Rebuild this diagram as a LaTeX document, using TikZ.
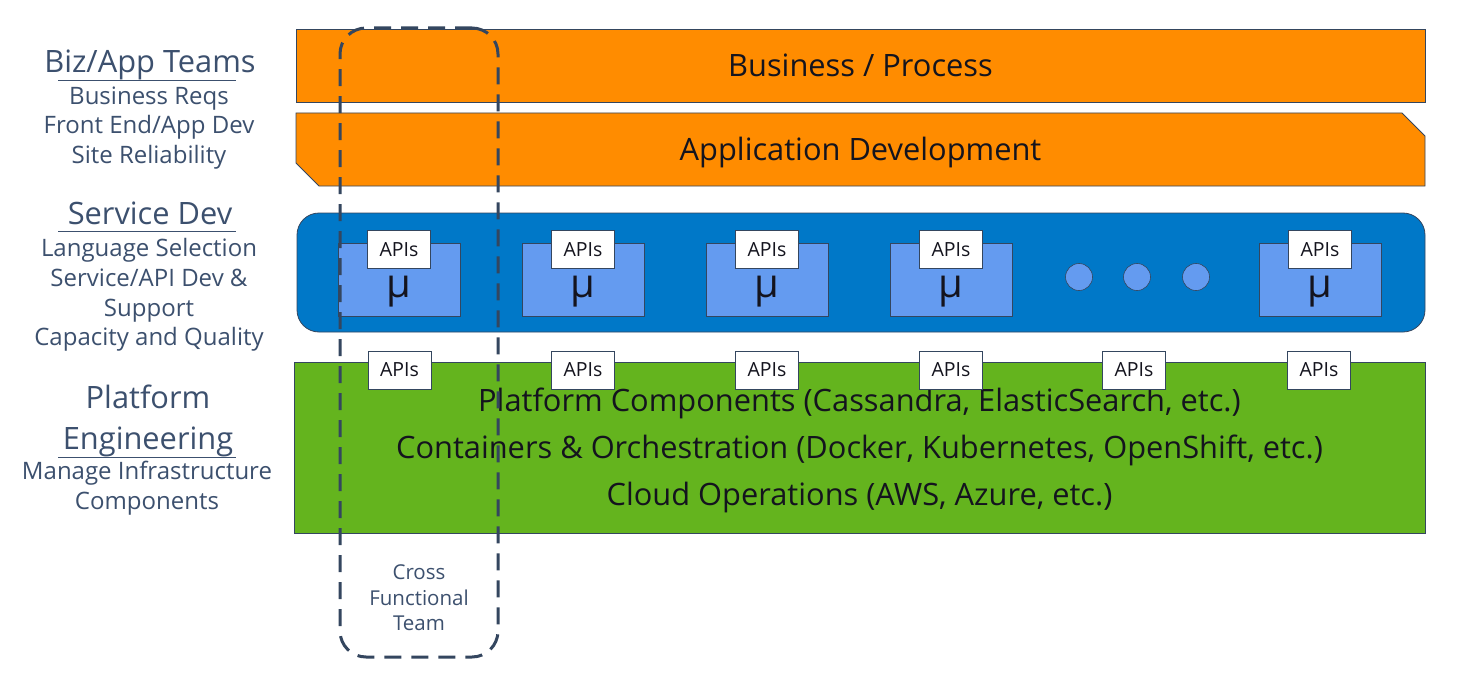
\documentclass[tikz,border=0pt]{standalone}
\usepackage{fontspec}
\setmainfont{Open Sans}
\usepackage{xcolor}
\usepackage{tikz}
\usetikzlibrary{shapes.misc}
\definecolor{orangeBar}{HTML}{FF8C00}
\definecolor{blueBand}{HTML}{0078C8}
\definecolor{blueSvc}{HTML}{649BF0}
\definecolor{greenBand}{HTML}{64B41E}
\definecolor{slateText}{HTML}{3C506E}
\definecolor{slateLine}{HTML}{34465F}
\definecolor{inkDark}{HTML}{14141E}

\begin{document}
\begin{tikzpicture}[x=1pt,y=-1pt]

            \tikzset{
                band/.style={
                    draw=slateLine,
                    line width=0.8pt,
                    inner sep=0pt,
                    text=inkDark,
                    text height=22pt, text depth=0pt,
                    font=\fontsize{30.8}{46.5}\selectfont
                },
                bandline/.style={
                    inner sep=0pt, text=inkDark,
                    text height=22pt, text depth=0pt,
                    font=\fontsize{30.8}{46.5}\selectfont
                },
                svcbox/.style={
                    draw=slateLine, fill=blueSvc, line width=0.6pt,
                    minimum width=122pt, minimum height=73pt, inner sep=0pt
                },
                apibox/.style={
                    draw=slateLine, fill=white, line width=0.6pt,
                    minimum width=63pt, minimum height=38pt, inner sep=0pt,
                    text=inkDark, font=\fontsize{19.5}{21}\selectfont
                },
                dotsvc/.style={
                    circle, draw=slateLine, fill=blueSvc, line width=0.6pt,
                    minimum size=27pt, inner sep=0pt
                },
                teamtitle/.style={text=slateText, inner sep=0pt,
                    text height=22pt, text depth=0pt,
                    font=\fontsize{30.8}{38}\selectfont},
                teamtask/.style={text=slateText, inner sep=0pt,
                    text height=17pt, text depth=0pt,
                    font=\fontsize{24}{30}\selectfont},
                underline/.style={draw=slateText, line width=1.2pt},
                xteam/.style={
                    draw=slateLine, line width=3pt, rounded corners=26pt,
                    dash pattern=on 17pt off 10pt,
                    minimum width=158pt, minimum height=629pt, inner sep=0pt
                }
            }

            \newcommand{\MicroSvc}[2]{%
                \node[svcbox] (#1) at (#2,279.5) {};
                \node[apibox] (#1api) at (#2,249.5) {APIs};
                \node[font=\fontsize{40}{40}\selectfont, text=inkDark] (#1mu) at (#2,292) {μ};
            }

            \fill[white] (0,0) rectangle (1466,682);
            \useasboundingbox (0,0) rectangle (1466,682);

            % team labels
            \node[teamtitle] (biz) at (150,61.5) {Biz/App Teams};
            \draw[underline] (58,80.5) -- (236,80.5);
            \node[teamtask] (bizreq) at (149,96.5) {Business Reqs};
            \node[teamtask] (bizfront) at (149,125.5) {Front End/App Dev};
            \node[teamtask] (bizsite) at (149,154.5) {Site Reliability};

            \node[teamtitle] (svcdev) at (150,213.5) {Service Dev};
            \draw[underline] (58,231.5) -- (236,231.5);
            \node[teamtask] (svclang) at (149,247.5) {Language Selection};
            \node[teamtask] (svcapi) at (149,277.5) {Service/API Dev \&};
            \node[teamtask] (svcsup) at (149,307.5) {Support};
            \node[teamtask] (svccap) at (149,336.5) {Capacity and Quality};

            \node[teamtitle] (plat) at (148,397) {Platform};
            \node[teamtitle] (plateng) at (148,438) {Engineering};
            \draw[underline] (58,457.5) -- (236,457.5);
            \node[teamtask] (platinf) at (147,471) {Manage Infrastructure};
            \node[teamtask] (platcomp) at (147,500.5) {Components};

            % bands
            \node[band, fill=orangeBar, minimum width=1129pt, minimum height=73pt]
                (business) at (860.5,65.5) {Business / Process};
            \node[band, fill=orangeBar, chamfered rectangle,
                chamfered rectangle corners={north east,south west},
                chamfered rectangle xsep=12pt, chamfered rectangle ysep=12pt,
                minimum width=1129pt, minimum height=73pt]
                (appdev) at (860.5,149.5) {Application Development};
            \node[band, fill=blueBand, rounded corners=22pt,
                minimum width=1128pt, minimum height=119pt]
                (services) at (861,272.5) {};
            \node[band, fill=greenBand, minimum width=1131pt, minimum height=171pt]
                (platform) at (859.5,447.5) {};
            \node[bandline] (platcomps) at (859.5,400.5) {Platform Components (Cassandra, ElasticSearch, etc.)};
            \node[bandline] (platcont) at (859.5,447.5) {Containers \& Orchestration (Docker, Kubernetes, OpenShift, etc.)};
            \node[bandline] (platcloud) at (859.5,494) {Cloud Operations (AWS, Azure, etc.)};

            % microservices
            \MicroSvc{svcA}{399}
            \MicroSvc{svcB}{583}
            \MicroSvc{svcC}{767}
            \MicroSvc{svcD}{951}
            \MicroSvc{svcF}{1320}
            \node[dotsvc] (dotA) at (1079,277) {};
            \node[dotsvc] (dotB) at (1137,277) {};
            \node[dotsvc] (dotC) at (1196,277) {};

            % platform APIs
            \node[apibox] (papiA) at (399.5,370) {APIs};
            \node[apibox] (papiB) at (583,370) {APIs};
            \node[apibox] (papiC) at (767,370) {APIs};
            \node[apibox] (papiD) at (951,370) {APIs};
            \node[apibox] (papiE) at (1134,370) {APIs};
            \node[apibox] (papiF) at (1319,370) {APIs};

            % cross functional team
            \node[xteam] (cft) at (419,342.5) {};
            \node[text=slateText, align=center, font=\fontsize{20.5}{25.5}\selectfont]
                (cftlabel) at (419,598) {Cross\\Functional\\Team};

        \end{tikzpicture}
\end{document}
